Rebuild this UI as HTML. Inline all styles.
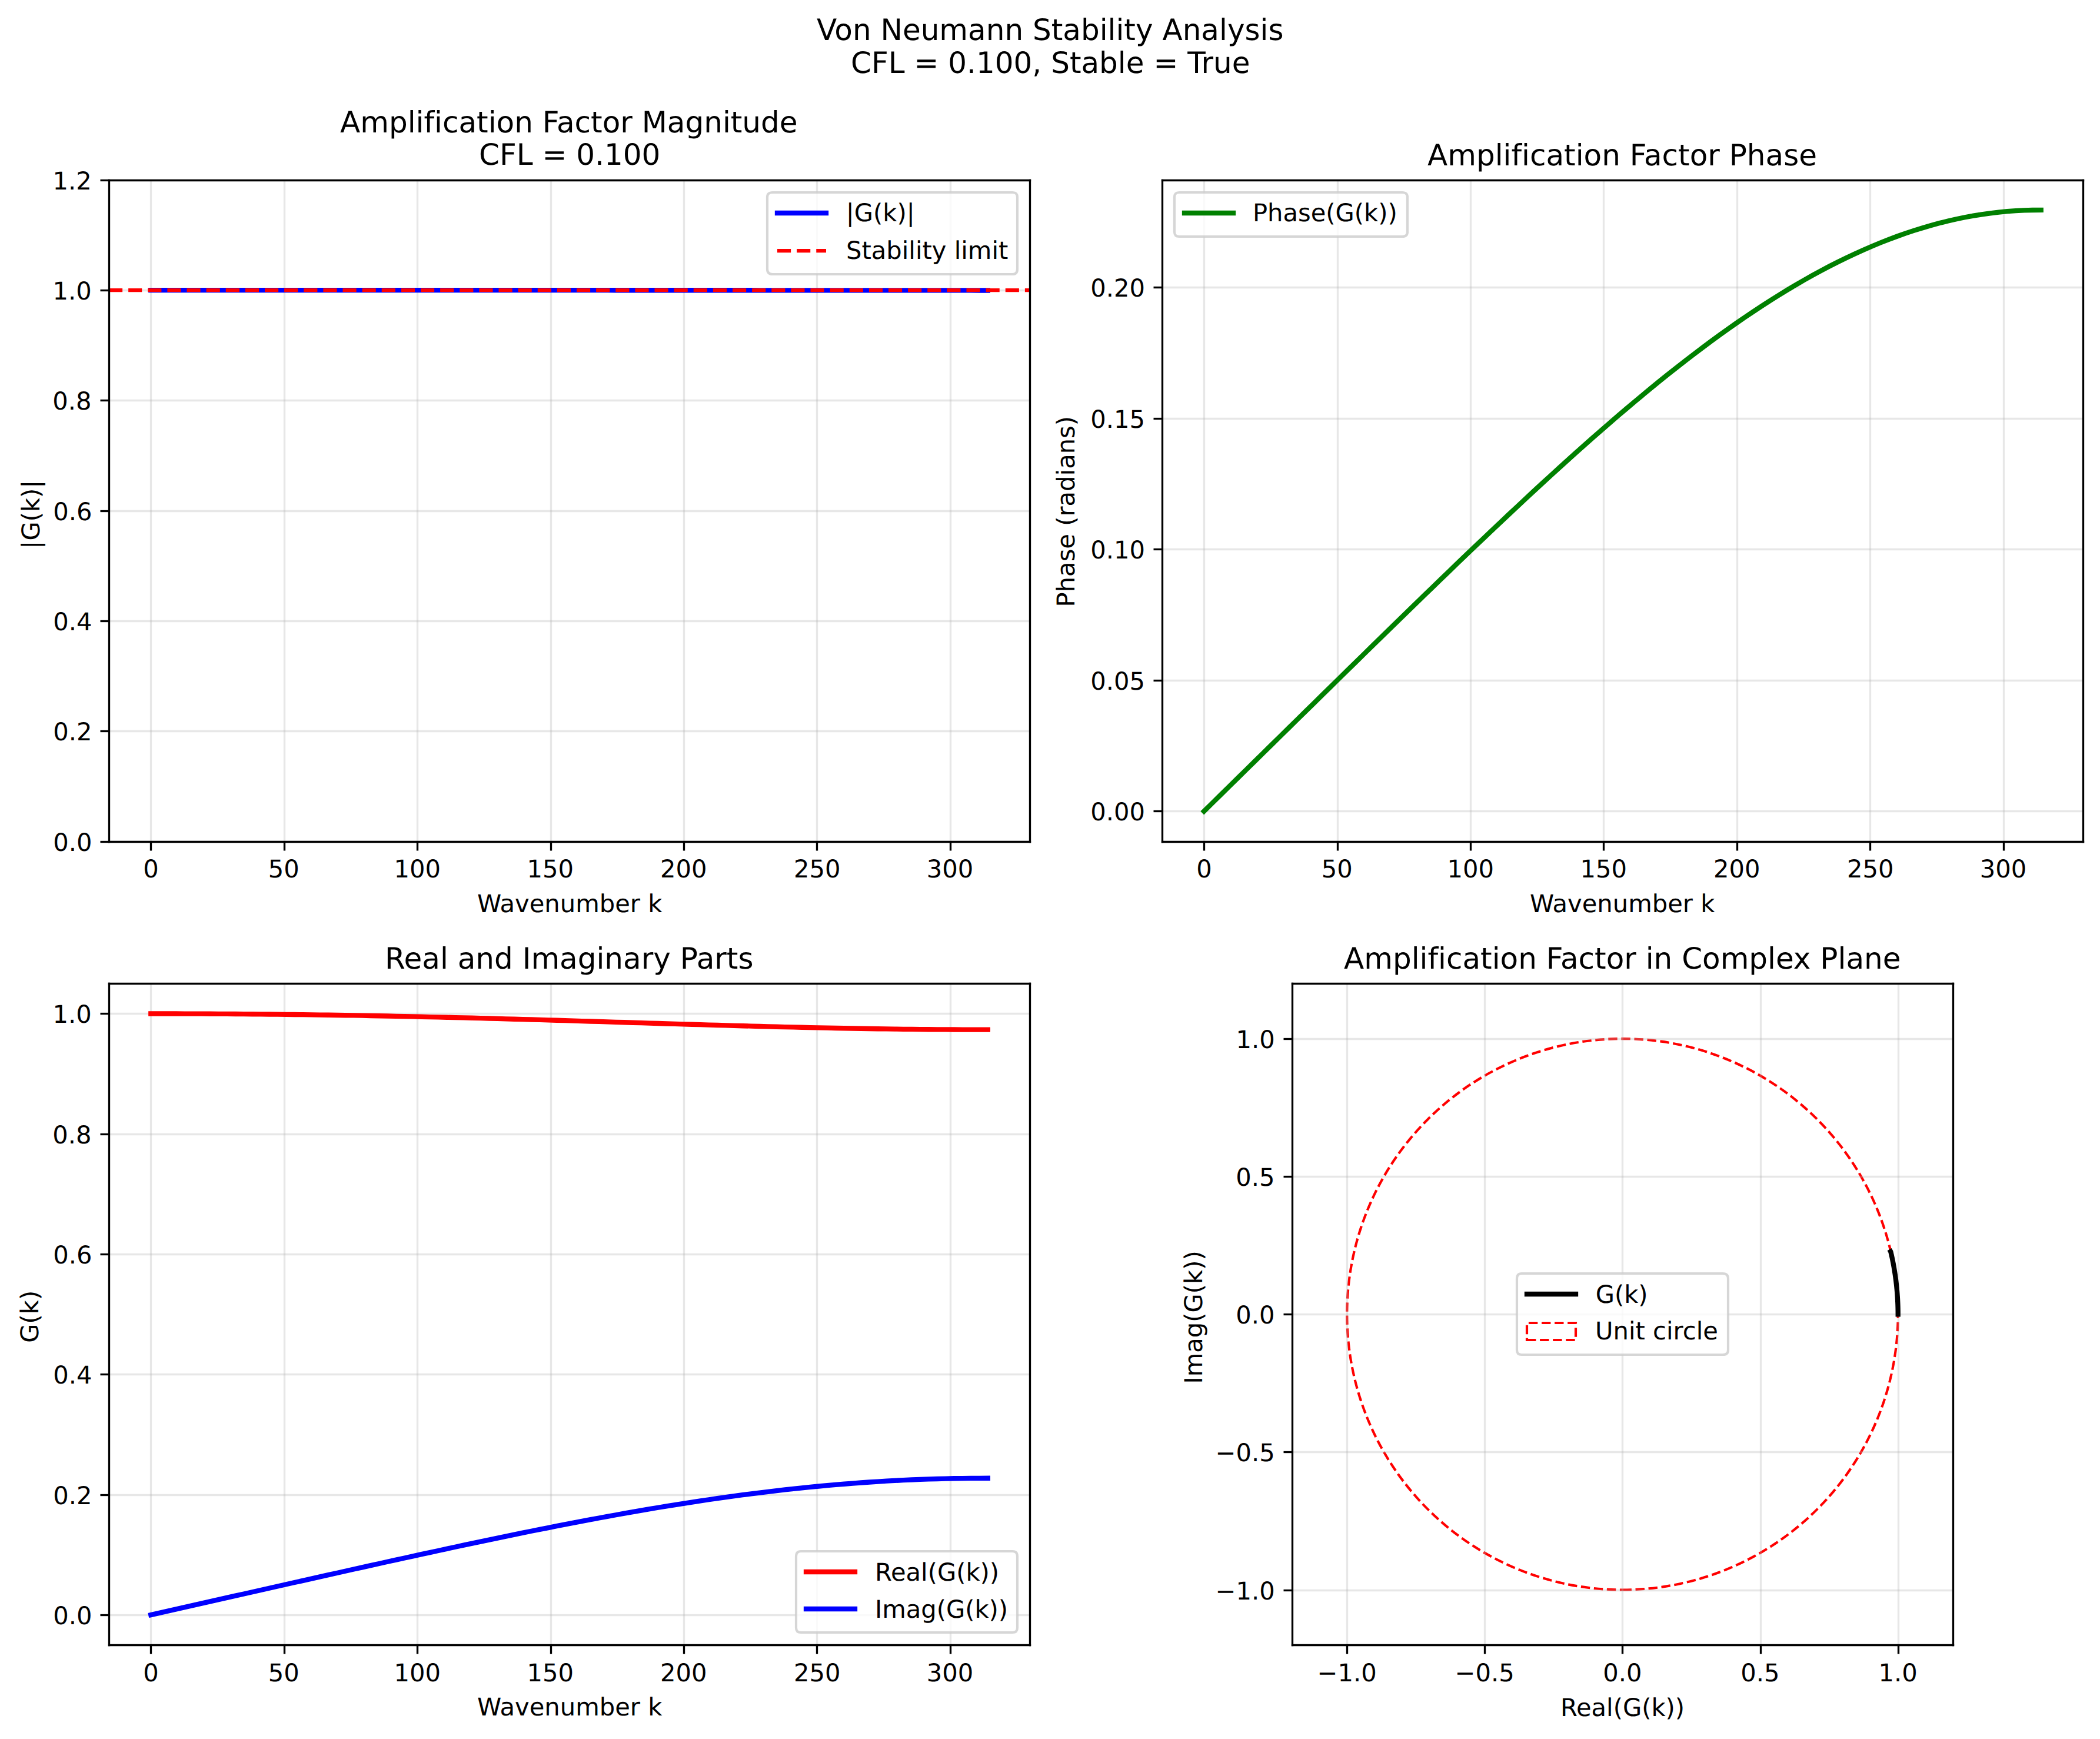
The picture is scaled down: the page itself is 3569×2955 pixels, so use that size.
<!DOCTYPE html>
<html lang="en"><head><meta charset="utf-8"><title>Von Neumann Stability Analysis</title>
<style>
html,body{margin:0;padding:0;background:#fff}
body{width:3569px;height:2955px;overflow:hidden}
svg{display:block}
svg text{font-family:"DejaVu Sans","Liberation Sans",sans-serif;text-rendering:geometricPrecision;white-space:pre;font-variant-ligatures:none;font-feature-settings:"liga" 0,"clig" 0,"dlig" 0}
</style></head><body>
<svg width="3569" height="2955" viewBox="0 0 3569 2955">
<defs><clipPath id="c0"><rect x="185" y="306" width="1565" height="1124"/></clipPath><clipPath id="c1"><rect x="1975" y="306" width="1565" height="1124"/></clipPath><clipPath id="c2"><rect x="185" y="1671" width="1565" height="1124"/></clipPath><clipPath id="c3"><rect x="2196" y="1671" width="1123" height="1124"/></clipPath></defs>
<path d="M0 2955L3570 2955L3570 0L0 0Z" fill="#ffffff" stroke="none"/>
<path d="M185 1430L1750 1430L1750 306L185 306Z" fill="#ffffff" stroke="none"/>
<path d="M256.5 1430.5L256.5 306.5" fill="none" stroke="#b0b0b0" stroke-width="3.333" stroke-opacity="0.3" stroke-linecap="square" stroke-linejoin="round" clip-path="url(#c0)"/>
<path d="M256.5 1430.5L256.5 1445.5" fill="none" stroke="#000000" stroke-width="3.333" stroke-linejoin="round"/>
<text x="243.25" y="1491.3" font-size="41.667">0</text>
<path d="M483.5 1430.5L483.5 306.5" fill="none" stroke="#b0b0b0" stroke-width="3.333" stroke-opacity="0.3" stroke-linecap="square" stroke-linejoin="round" clip-path="url(#c0)"/>
<path d="M483.5 1430.5L483.5 1445.5" fill="none" stroke="#000000" stroke-width="3.333" stroke-linejoin="round"/>
<text x="455.75" y="1491.3" font-size="41.667">50</text>
<path d="M709.5 1430.5L709.5 306.5" fill="none" stroke="#b0b0b0" stroke-width="3.333" stroke-opacity="0.3" stroke-linecap="square" stroke-linejoin="round" clip-path="url(#c0)"/>
<path d="M709.5 1430.5L709.5 1445.5" fill="none" stroke="#000000" stroke-width="3.333" stroke-linejoin="round"/>
<text x="669.438" y="1491.3" font-size="41.667">100</text>
<path d="M936.5 1430.5L936.5 306.5" fill="none" stroke="#b0b0b0" stroke-width="3.333" stroke-opacity="0.3" stroke-linecap="square" stroke-linejoin="round" clip-path="url(#c0)"/>
<path d="M936.5 1430.5L936.5 1445.5" fill="none" stroke="#000000" stroke-width="3.333" stroke-linejoin="round"/>
<text x="895.438" y="1491.3" font-size="41.667">150</text>
<path d="M1162.5 1430.5L1162.5 306.5" fill="none" stroke="#b0b0b0" stroke-width="3.333" stroke-opacity="0.3" stroke-linecap="square" stroke-linejoin="round" clip-path="url(#c0)"/>
<path d="M1162.5 1430.5L1162.5 1445.5" fill="none" stroke="#000000" stroke-width="3.333" stroke-linejoin="round"/>
<text x="1122" y="1491.3" font-size="41.667">200</text>
<path d="M1388.5 1430.5L1388.5 306.5" fill="none" stroke="#b0b0b0" stroke-width="3.333" stroke-opacity="0.3" stroke-linecap="square" stroke-linejoin="round" clip-path="url(#c0)"/>
<path d="M1388.5 1430.5L1388.5 1445.5" fill="none" stroke="#000000" stroke-width="3.333" stroke-linejoin="round"/>
<text x="1349" y="1491.3" font-size="41.667">250</text>
<path d="M1615.5 1430.5L1615.5 306.5" fill="none" stroke="#b0b0b0" stroke-width="3.333" stroke-opacity="0.3" stroke-linecap="square" stroke-linejoin="round" clip-path="url(#c0)"/>
<path d="M1615.5 1430.5L1615.5 1445.5" fill="none" stroke="#000000" stroke-width="3.333" stroke-linejoin="round"/>
<text x="1574.812" y="1491.3" font-size="41.667">300</text>
<text x="811" y="1550.3" font-size="41.667">Wavenumber k</text>
<path d="M185.5 1430.5L1750.5 1430.5" fill="none" stroke="#b0b0b0" stroke-width="3.333" stroke-opacity="0.3" stroke-linecap="square" stroke-linejoin="round" clip-path="url(#c0)"/>
<path d="M185.5 1430.5L170.5 1430.5" fill="none" stroke="#000000" stroke-width="3.333" stroke-linejoin="round"/>
<text x="90.25" y="1446.3" font-size="41.667">0.0</text>
<path d="M185.5 1242.5L1750.5 1242.5" fill="none" stroke="#b0b0b0" stroke-width="3.333" stroke-opacity="0.3" stroke-linecap="square" stroke-linejoin="round" clip-path="url(#c0)"/>
<path d="M185.5 1242.5L170.5 1242.5" fill="none" stroke="#000000" stroke-width="3.333" stroke-linejoin="round"/>
<text x="90.25" y="1258.3" font-size="41.667">0.2</text>
<path d="M185.5 1055.5L1750.5 1055.5" fill="none" stroke="#b0b0b0" stroke-width="3.333" stroke-opacity="0.3" stroke-linecap="square" stroke-linejoin="round" clip-path="url(#c0)"/>
<path d="M185.5 1055.5L170.5 1055.5" fill="none" stroke="#000000" stroke-width="3.333" stroke-linejoin="round"/>
<text x="90.25" y="1071.3" font-size="41.667">0.4</text>
<path d="M185.5 868.5L1750.5 868.5" fill="none" stroke="#b0b0b0" stroke-width="3.333" stroke-opacity="0.3" stroke-linecap="square" stroke-linejoin="round" clip-path="url(#c0)"/>
<path d="M185.5 868.5L170.5 868.5" fill="none" stroke="#000000" stroke-width="3.333" stroke-linejoin="round"/>
<text x="90.25" y="884.3" font-size="41.667">0.6</text>
<path d="M185.5 680.5L1750.5 680.5" fill="none" stroke="#b0b0b0" stroke-width="3.333" stroke-opacity="0.3" stroke-linecap="square" stroke-linejoin="round" clip-path="url(#c0)"/>
<path d="M185.5 680.5L170.5 680.5" fill="none" stroke="#000000" stroke-width="3.333" stroke-linejoin="round"/>
<text x="89.25" y="696.3" font-size="41.667">0.8</text>
<path d="M185.5 493.5L1750.5 493.5" fill="none" stroke="#b0b0b0" stroke-width="3.333" stroke-opacity="0.3" stroke-linecap="square" stroke-linejoin="round" clip-path="url(#c0)"/>
<path d="M185.5 493.5L170.5 493.5" fill="none" stroke="#000000" stroke-width="3.333" stroke-linejoin="round"/>
<text x="89.438" y="509.3" font-size="41.667">1.0</text>
<path d="M185.5 306.5L1750.5 306.5" fill="none" stroke="#b0b0b0" stroke-width="3.333" stroke-opacity="0.3" stroke-linecap="square" stroke-linejoin="round" clip-path="url(#c0)"/>
<path d="M185.5 306.5L170.5 306.5" fill="none" stroke="#000000" stroke-width="3.333" stroke-linejoin="round"/>
<text x="89.438" y="321.8" font-size="41.667">1.2</text>
<text transform="translate(67 932.65) rotate(-90)" font-size="41.667">|G(k)|</text>
<path d="M256.335 493.094L270.704 493.094L285.073 493.095L299.442 493.095L313.812 493.095L328.181 493.095L342.55 493.096L356.919 493.096L371.288 493.097L385.657 493.098L400.026 493.098L414.395 493.099L428.764 493.1L443.133 493.101L457.502 493.102L471.871 493.103L486.24 493.104L500.609 493.105L514.978 493.107L529.348 493.108L543.717 493.11L558.086 493.111L572.455 493.113L586.824 493.115L601.193 493.116L615.562 493.118L629.931 493.12L644.3 493.122L658.669 493.124L673.038 493.127L687.407 493.129L701.776 493.131L716.145 493.134L730.515 493.136L744.884 493.139L759.253 493.141L773.622 493.144L787.991 493.147L802.36 493.15L816.729 493.153L831.098 493.156L845.467 493.159L859.836 493.162L874.205 493.165L888.574 493.168L902.943 493.172L917.312 493.175L931.681 493.179L946.051 493.183L960.42 493.186L974.789 493.19L989.158 493.194L1003.527 493.198L1017.896 493.202L1032.265 493.206L1046.634 493.21L1061.003 493.214L1075.372 493.219L1089.741 493.223L1104.11 493.227L1118.479 493.232L1132.848 493.237L1147.218 493.241L1161.587 493.246L1175.956 493.251L1190.325 493.256L1204.694 493.261L1219.063 493.266L1233.432 493.271L1247.801 493.276L1262.17 493.282L1276.539 493.287L1290.908 493.293L1305.277 493.298L1319.646 493.304L1334.015 493.309L1348.385 493.315L1362.754 493.321L1377.123 493.327L1391.492 493.333L1405.861 493.339L1420.23 493.345L1434.599 493.351L1448.968 493.358L1463.337 493.364L1477.706 493.371L1492.075 493.377L1506.444 493.384L1520.813 493.39L1535.182 493.397L1549.551 493.404L1563.921 493.411L1578.29 493.418L1592.659 493.425L1607.028 493.432L1621.397 493.439L1635.766 493.447L1650.135 493.454L1664.504 493.462L1678.873 493.469" fill="none" stroke="#0000ff" stroke-width="8.333" stroke-linecap="square" stroke-linejoin="round" clip-path="url(#c0)"/>
<path d="M185 493L1750 493" fill="none" stroke="#ff0000" stroke-width="6.25" stroke-linejoin="round" stroke-dasharray="23.125 10" clip-path="url(#c0)"/>
<path d="M185.5 1430.5L185.5 306.5" fill="none" stroke="#000000" stroke-width="3.333" stroke-linecap="square"/>
<path d="M1750.5 1430.5L1750.5 306.5" fill="none" stroke="#000000" stroke-width="3.333" stroke-linecap="square"/>
<path d="M185.5 1430.5L1750.5 1430.5" fill="none" stroke="#000000" stroke-width="3.333" stroke-linecap="square"/>
<path d="M185.5 306.5L1750.5 306.5" fill="none" stroke="#000000" stroke-width="3.333" stroke-linecap="square"/>
<text x="578" y="224.8" font-size="50">Amplification Factor Magnitude</text>
<text x="814" y="280.3" font-size="50">CFL = 0.100</text>
<path d="M1313 466L1721 466Q1729 466 1729 457L1729 335Q1729 327 1721 327L1313 327Q1304 327 1304 335L1304 457Q1304 466 1313 466Z" fill="#ffffff" fill-opacity="0.8" stroke="#cccccc" stroke-width="4.167" stroke-opacity="0.8"/>
<path d="M1321 362L1363 362L1404 362" fill="none" stroke="#0000ff" stroke-width="8.333" stroke-linecap="square" stroke-linejoin="round"/>
<text x="1437.75" y="375.8" font-size="41.667">|G(k)|</text>
<path d="M1321 426L1363 426L1404 426" fill="none" stroke="#ff0000" stroke-width="6.25" stroke-linejoin="round" stroke-dasharray="23.125 10"/>
<text x="1438" y="439.8" font-size="41.667">Stability limit</text>
<path d="M1975 1430L3540 1430L3540 306L1975 306Z" fill="#ffffff" stroke="none"/>
<path d="M2046.5 1430.5L2046.5 306.5" fill="none" stroke="#b0b0b0" stroke-width="3.333" stroke-opacity="0.3" stroke-linecap="square" stroke-linejoin="round" clip-path="url(#c1)"/>
<path d="M2046.5 1430.5L2046.5 1445.5" fill="none" stroke="#000000" stroke-width="3.333" stroke-linejoin="round"/>
<text x="2033.25" y="1491.3" font-size="41.667">0</text>
<path d="M2273.5 1430.5L2273.5 306.5" fill="none" stroke="#b0b0b0" stroke-width="3.333" stroke-opacity="0.3" stroke-linecap="square" stroke-linejoin="round" clip-path="url(#c1)"/>
<path d="M2273.5 1430.5L2273.5 1445.5" fill="none" stroke="#000000" stroke-width="3.333" stroke-linejoin="round"/>
<text x="2245.75" y="1491.3" font-size="41.667">50</text>
<path d="M2499.5 1430.5L2499.5 306.5" fill="none" stroke="#b0b0b0" stroke-width="3.333" stroke-opacity="0.3" stroke-linecap="square" stroke-linejoin="round" clip-path="url(#c1)"/>
<path d="M2499.5 1430.5L2499.5 1445.5" fill="none" stroke="#000000" stroke-width="3.333" stroke-linejoin="round"/>
<text x="2459.438" y="1491.3" font-size="41.667">100</text>
<path d="M2725.5 1430.5L2725.5 306.5" fill="none" stroke="#b0b0b0" stroke-width="3.333" stroke-opacity="0.3" stroke-linecap="square" stroke-linejoin="round" clip-path="url(#c1)"/>
<path d="M2725.5 1430.5L2725.5 1445.5" fill="none" stroke="#000000" stroke-width="3.333" stroke-linejoin="round"/>
<text x="2685.438" y="1491.3" font-size="41.667">150</text>
<path d="M2952.5 1430.5L2952.5 306.5" fill="none" stroke="#b0b0b0" stroke-width="3.333" stroke-opacity="0.3" stroke-linecap="square" stroke-linejoin="round" clip-path="url(#c1)"/>
<path d="M2952.5 1430.5L2952.5 1445.5" fill="none" stroke="#000000" stroke-width="3.333" stroke-linejoin="round"/>
<text x="2912" y="1491.3" font-size="41.667">200</text>
<path d="M3178.5 1430.5L3178.5 306.5" fill="none" stroke="#b0b0b0" stroke-width="3.333" stroke-opacity="0.3" stroke-linecap="square" stroke-linejoin="round" clip-path="url(#c1)"/>
<path d="M3178.5 1430.5L3178.5 1445.5" fill="none" stroke="#000000" stroke-width="3.333" stroke-linejoin="round"/>
<text x="3139" y="1491.3" font-size="41.667">250</text>
<path d="M3405.5 1430.5L3405.5 306.5" fill="none" stroke="#b0b0b0" stroke-width="3.333" stroke-opacity="0.3" stroke-linecap="square" stroke-linejoin="round" clip-path="url(#c1)"/>
<path d="M3405.5 1430.5L3405.5 1445.5" fill="none" stroke="#000000" stroke-width="3.333" stroke-linejoin="round"/>
<text x="3364.812" y="1491.3" font-size="41.667">300</text>
<text x="2600" y="1550.3" font-size="41.667">Wavenumber k</text>
<path d="M1975.5 1378.5L3540.5 1378.5" fill="none" stroke="#b0b0b0" stroke-width="3.333" stroke-opacity="0.3" stroke-linecap="square" stroke-linejoin="round" clip-path="url(#c1)"/>
<path d="M1975.5 1378.5L1960.5 1378.5" fill="none" stroke="#000000" stroke-width="3.333" stroke-linejoin="round"/>
<text x="1853.25" y="1394.3" font-size="41.667">0.00</text>
<path d="M1975.5 1156.5L3540.5 1156.5" fill="none" stroke="#b0b0b0" stroke-width="3.333" stroke-opacity="0.3" stroke-linecap="square" stroke-linejoin="round" clip-path="url(#c1)"/>
<path d="M1975.5 1156.5L1960.5 1156.5" fill="none" stroke="#000000" stroke-width="3.333" stroke-linejoin="round"/>
<text x="1853.25" y="1172.3" font-size="41.667">0.05</text>
<path d="M1975.5 933.5L3540.5 933.5" fill="none" stroke="#b0b0b0" stroke-width="3.333" stroke-opacity="0.3" stroke-linecap="square" stroke-linejoin="round" clip-path="url(#c1)"/>
<path d="M1975.5 933.5L1960.5 933.5" fill="none" stroke="#000000" stroke-width="3.333" stroke-linejoin="round"/>
<text x="1853.25" y="949.3" font-size="41.667">0.10</text>
<path d="M1975.5 711.5L3540.5 711.5" fill="none" stroke="#b0b0b0" stroke-width="3.333" stroke-opacity="0.3" stroke-linecap="square" stroke-linejoin="round" clip-path="url(#c1)"/>
<path d="M1975.5 711.5L1960.5 711.5" fill="none" stroke="#000000" stroke-width="3.333" stroke-linejoin="round"/>
<text x="1853.25" y="727.3" font-size="41.667">0.15</text>
<path d="M1975.5 488.5L3540.5 488.5" fill="none" stroke="#b0b0b0" stroke-width="3.333" stroke-opacity="0.3" stroke-linecap="square" stroke-linejoin="round" clip-path="url(#c1)"/>
<path d="M1975.5 488.5L1960.5 488.5" fill="none" stroke="#000000" stroke-width="3.333" stroke-linejoin="round"/>
<text x="1853.25" y="504.3" font-size="41.667">0.20</text>
<text transform="translate(1826 1031.4) rotate(-90)" font-size="41.667">Phase (radians)</text>
<path d="M2046.21 1378.486L2060.579 1364.361L2074.948 1350.235L2089.317 1336.109L2103.687 1321.984L2118.056 1307.86L2132.425 1293.735L2146.794 1279.612L2161.163 1265.49L2175.532 1251.369L2189.901 1237.25L2204.27 1223.134L2218.639 1209.021L2233.008 1194.911L2247.377 1180.805L2261.746 1166.706L2276.115 1152.612L2290.484 1138.526L2304.853 1124.449L2319.223 1110.382L2333.592 1096.327L2347.961 1082.285L2362.33 1068.259L2376.699 1054.249L2391.068 1040.26L2405.437 1026.292L2419.806 1012.348L2434.175 998.431L2448.544 984.543L2462.913 970.688L2477.282 956.869L2491.651 943.088L2506.02 929.349L2520.39 915.656L2534.759 902.013L2549.128 888.422L2563.497 874.889L2577.866 861.417L2592.235 848.011L2606.604 834.675L2620.973 821.413L2635.342 808.23L2649.711 795.132L2664.08 782.122L2678.449 769.206L2692.818 756.388L2707.187 743.675L2721.556 731.071L2735.926 718.582L2750.295 706.212L2764.664 693.968L2779.033 681.855L2793.402 669.878L2807.771 658.044L2822.14 646.357L2836.509 634.824L2850.878 623.45L2865.247 612.24L2879.616 601.202L2893.985 590.339L2908.354 579.658L2922.723 569.165L2937.093 558.865L2951.462 548.764L2965.831 538.867L2980.2 529.18L2994.569 519.708L3008.938 510.456L3023.307 501.431L3037.676 492.636L3052.045 484.077L3066.414 475.76L3080.783 467.689L3095.152 459.868L3109.521 452.303L3123.89 444.998L3138.26 437.957L3152.629 431.186L3166.998 424.687L3181.367 418.465L3195.736 412.524L3210.105 406.867L3224.474 401.499L3238.843 396.422L3253.212 391.639L3267.581 387.154L3281.95 382.97L3296.319 379.089L3310.688 375.514L3325.057 372.246L3339.426 369.289L3353.796 366.644L3368.165 364.312L3382.534 362.296L3396.903 360.596L3411.272 359.214L3425.641 358.151L3440.01 357.408L3454.379 356.984L3468.748 356.88" fill="none" stroke="#008000" stroke-width="8.333" stroke-linecap="square" stroke-linejoin="round" clip-path="url(#c1)"/>
<path d="M1975.5 1430.5L1975.5 306.5" fill="none" stroke="#000000" stroke-width="3.333" stroke-linecap="square"/>
<path d="M3540.5 1430.5L3540.5 306.5" fill="none" stroke="#000000" stroke-width="3.333" stroke-linecap="square"/>
<path d="M1975.5 1430.5L3540.5 1430.5" fill="none" stroke="#000000" stroke-width="3.333" stroke-linecap="square"/>
<path d="M1975.5 306.5L3540.5 306.5" fill="none" stroke="#000000" stroke-width="3.333" stroke-linecap="square"/>
<text x="2426" y="280.8" font-size="50">Amplification Factor Phase</text>
<path d="M2004 402L2383 402Q2392 402 2392 394L2392 335Q2392 327 2383 327L2004 327Q1996 327 1996 335L1996 394Q1996 402 2004 402Z" fill="#ffffff" fill-opacity="0.8" stroke="#cccccc" stroke-width="4.167" stroke-opacity="0.8"/>
<path d="M2013 362L2054 362L2096 362" fill="none" stroke="#008000" stroke-width="8.333" stroke-linecap="square" stroke-linejoin="round"/>
<text x="2128.875" y="375.8" font-size="41.667">Phase(G(k))</text>
<path d="M185 2795L1750 2795L1750 1671L185 1671Z" fill="#ffffff" stroke="none"/>
<path d="M256.5 2795.5L256.5 1671.5" fill="none" stroke="#b0b0b0" stroke-width="3.333" stroke-opacity="0.3" stroke-linecap="square" stroke-linejoin="round" clip-path="url(#c2)"/>
<path d="M256.5 2795.5L256.5 2810.5" fill="none" stroke="#000000" stroke-width="3.333" stroke-linejoin="round"/>
<text x="243.25" y="2857.3" font-size="41.667">0</text>
<path d="M483.5 2795.5L483.5 1671.5" fill="none" stroke="#b0b0b0" stroke-width="3.333" stroke-opacity="0.3" stroke-linecap="square" stroke-linejoin="round" clip-path="url(#c2)"/>
<path d="M483.5 2795.5L483.5 2810.5" fill="none" stroke="#000000" stroke-width="3.333" stroke-linejoin="round"/>
<text x="455.75" y="2857.3" font-size="41.667">50</text>
<path d="M709.5 2795.5L709.5 1671.5" fill="none" stroke="#b0b0b0" stroke-width="3.333" stroke-opacity="0.3" stroke-linecap="square" stroke-linejoin="round" clip-path="url(#c2)"/>
<path d="M709.5 2795.5L709.5 2810.5" fill="none" stroke="#000000" stroke-width="3.333" stroke-linejoin="round"/>
<text x="669.438" y="2857.3" font-size="41.667">100</text>
<path d="M936.5 2795.5L936.5 1671.5" fill="none" stroke="#b0b0b0" stroke-width="3.333" stroke-opacity="0.3" stroke-linecap="square" stroke-linejoin="round" clip-path="url(#c2)"/>
<path d="M936.5 2795.5L936.5 2810.5" fill="none" stroke="#000000" stroke-width="3.333" stroke-linejoin="round"/>
<text x="895.438" y="2857.3" font-size="41.667">150</text>
<path d="M1162.5 2795.5L1162.5 1671.5" fill="none" stroke="#b0b0b0" stroke-width="3.333" stroke-opacity="0.3" stroke-linecap="square" stroke-linejoin="round" clip-path="url(#c2)"/>
<path d="M1162.5 2795.5L1162.5 2810.5" fill="none" stroke="#000000" stroke-width="3.333" stroke-linejoin="round"/>
<text x="1122" y="2857.3" font-size="41.667">200</text>
<path d="M1388.5 2795.5L1388.5 1671.5" fill="none" stroke="#b0b0b0" stroke-width="3.333" stroke-opacity="0.3" stroke-linecap="square" stroke-linejoin="round" clip-path="url(#c2)"/>
<path d="M1388.5 2795.5L1388.5 2810.5" fill="none" stroke="#000000" stroke-width="3.333" stroke-linejoin="round"/>
<text x="1349" y="2857.3" font-size="41.667">250</text>
<path d="M1615.5 2795.5L1615.5 1671.5" fill="none" stroke="#b0b0b0" stroke-width="3.333" stroke-opacity="0.3" stroke-linecap="square" stroke-linejoin="round" clip-path="url(#c2)"/>
<path d="M1615.5 2795.5L1615.5 2810.5" fill="none" stroke="#000000" stroke-width="3.333" stroke-linejoin="round"/>
<text x="1574.812" y="2857.3" font-size="41.667">300</text>
<text x="811" y="2915.3" font-size="41.667">Wavenumber k</text>
<path d="M185.5 2744.5L1750.5 2744.5" fill="none" stroke="#b0b0b0" stroke-width="3.333" stroke-opacity="0.3" stroke-linecap="square" stroke-linejoin="round" clip-path="url(#c2)"/>
<path d="M185.5 2744.5L170.5 2744.5" fill="none" stroke="#000000" stroke-width="3.333" stroke-linejoin="round"/>
<text x="90.25" y="2760.3" font-size="41.667">0.0</text>
<path d="M185.5 2540.5L1750.5 2540.5" fill="none" stroke="#b0b0b0" stroke-width="3.333" stroke-opacity="0.3" stroke-linecap="square" stroke-linejoin="round" clip-path="url(#c2)"/>
<path d="M185.5 2540.5L170.5 2540.5" fill="none" stroke="#000000" stroke-width="3.333" stroke-linejoin="round"/>
<text x="90.25" y="2556.3" font-size="41.667">0.2</text>
<path d="M185.5 2335.5L1750.5 2335.5" fill="none" stroke="#b0b0b0" stroke-width="3.333" stroke-opacity="0.3" stroke-linecap="square" stroke-linejoin="round" clip-path="url(#c2)"/>
<path d="M185.5 2335.5L170.5 2335.5" fill="none" stroke="#000000" stroke-width="3.333" stroke-linejoin="round"/>
<text x="90.25" y="2351.3" font-size="41.667">0.4</text>
<path d="M185.5 2131.5L1750.5 2131.5" fill="none" stroke="#b0b0b0" stroke-width="3.333" stroke-opacity="0.3" stroke-linecap="square" stroke-linejoin="round" clip-path="url(#c2)"/>
<path d="M185.5 2131.5L170.5 2131.5" fill="none" stroke="#000000" stroke-width="3.333" stroke-linejoin="round"/>
<text x="90.25" y="2147.3" font-size="41.667">0.6</text>
<path d="M185.5 1927.5L1750.5 1927.5" fill="none" stroke="#b0b0b0" stroke-width="3.333" stroke-opacity="0.3" stroke-linecap="square" stroke-linejoin="round" clip-path="url(#c2)"/>
<path d="M185.5 1927.5L170.5 1927.5" fill="none" stroke="#000000" stroke-width="3.333" stroke-linejoin="round"/>
<text x="89.25" y="1943.3" font-size="41.667">0.8</text>
<path d="M185.5 1722.5L1750.5 1722.5" fill="none" stroke="#b0b0b0" stroke-width="3.333" stroke-opacity="0.3" stroke-linecap="square" stroke-linejoin="round" clip-path="url(#c2)"/>
<path d="M185.5 1722.5L170.5 1722.5" fill="none" stroke="#000000" stroke-width="3.333" stroke-linejoin="round"/>
<text x="89.438" y="1738.3" font-size="41.667">1.0</text>
<text transform="translate(65 2281.775) rotate(-90)" font-size="41.667">G(k)</text>
<path d="M256.335 1722.48L270.704 1722.485L285.073 1722.501L299.442 1722.527L313.812 1722.563L328.181 1722.61L342.55 1722.667L356.919 1722.734L371.288 1722.812L385.657 1722.9L400.026 1722.999L414.395 1723.107L428.764 1723.227L443.133 1723.356L457.502 1723.496L471.871 1723.646L486.24 1723.806L500.609 1723.976L514.978 1724.157L529.348 1724.348L543.717 1724.549L558.086 1724.76L572.455 1724.98L586.824 1725.211L601.193 1725.452L615.562 1725.702L629.931 1725.962L644.3 1726.232L658.669 1726.511L673.038 1726.799L687.407 1727.097L701.776 1727.403L716.145 1727.719L730.515 1728.043L744.884 1728.375L759.253 1728.716L773.622 1729.065L787.991 1729.421L802.36 1729.786L816.729 1730.157L831.098 1730.536L845.467 1730.921L859.836 1731.313L874.205 1731.711L888.574 1732.115L902.943 1732.524L917.312 1732.938L931.681 1733.357L946.051 1733.781L960.42 1734.208L974.789 1734.638L989.158 1735.072L1003.527 1735.508L1017.896 1735.947L1032.265 1736.387L1046.634 1736.828L1061.003 1737.27L1075.372 1737.712L1089.741 1738.154L1104.11 1738.594L1118.479 1739.034L1132.848 1739.471L1147.218 1739.906L1161.587 1740.339L1175.956 1740.767L1190.325 1741.192L1204.694 1741.611L1219.063 1742.026L1233.432 1742.435L1247.801 1742.837L1262.17 1743.233L1276.539 1743.622L1290.908 1744.002L1305.277 1744.374L1319.646 1744.737L1334.015 1745.091L1348.385 1745.435L1362.754 1745.768L1377.123 1746.09L1391.492 1746.401L1405.861 1746.7L1420.23 1746.987L1434.599 1747.261L1448.968 1747.522L1463.337 1747.77L1477.706 1748.003L1492.075 1748.223L1506.444 1748.428L1520.813 1748.618L1535.182 1748.793L1549.551 1748.952L1563.921 1749.096L1578.29 1749.224L1592.659 1749.336L1607.028 1749.432L1621.397 1749.512L1635.766 1749.575L1650.135 1749.621L1664.504 1749.652L1678.873 1749.665" fill="none" stroke="#ff0000" stroke-width="8.333" stroke-linecap="square" stroke-linejoin="round" clip-path="url(#c2)"/>
<path d="M256.335 2744.086L270.704 2740.844L285.073 2737.603L299.442 2734.361L313.812 2731.119L328.181 2727.878L342.55 2724.637L356.919 2721.396L371.288 2718.156L385.657 2714.917L400.026 2711.678L414.395 2708.44L428.764 2705.203L443.133 2701.968L457.502 2698.734L471.871 2695.501L486.24 2692.271L500.609 2689.042L514.978 2685.817L529.348 2682.594L543.717 2679.375L558.086 2676.159L572.455 2672.948L586.824 2669.741L601.193 2666.539L615.562 2663.343L629.931 2660.154L644.3 2656.971L658.669 2653.797L673.038 2650.63L687.407 2647.472L701.776 2644.325L716.145 2641.188L730.515 2638.062L744.884 2634.949L759.253 2631.848L773.622 2628.762L787.991 2625.691L802.36 2622.636L816.729 2619.599L831.098 2616.579L845.467 2613.578L859.836 2610.598L874.205 2607.639L888.574 2604.703L902.943 2601.79L917.312 2598.902L931.681 2596.04L946.051 2593.205L960.42 2590.399L974.789 2587.623L989.158 2584.877L1003.527 2582.163L1017.896 2579.483L1032.265 2576.838L1046.634 2574.228L1061.003 2571.656L1075.372 2569.122L1089.741 2566.628L1104.11 2564.174L1118.479 2561.763L1132.848 2559.395L1147.218 2557.072L1161.587 2554.795L1175.956 2552.565L1190.325 2550.383L1204.694 2548.25L1219.063 2546.168L1233.432 2544.138L1247.801 2542.161L1262.17 2540.237L1276.539 2538.368L1290.908 2536.556L1305.277 2534.8L1319.646 2533.103L1334.015 2531.465L1348.385 2529.886L1362.754 2528.369L1377.123 2526.913L1391.492 2525.519L1405.861 2524.189L1420.23 2522.924L1434.599 2521.723L1448.968 2520.587L1463.337 2519.518L1477.706 2518.516L1492.075 2517.582L1506.444 2516.715L1520.813 2515.917L1535.182 2515.188L1549.551 2514.529L1563.921 2513.939L1578.29 2513.42L1592.659 2512.971L1607.028 2512.593L1621.397 2512.286L1635.766 2512.05L1650.135 2511.886L1664.504 2511.793L1678.873 2511.772" fill="none" stroke="#0000ff" stroke-width="8.333" stroke-linecap="square" stroke-linejoin="round" clip-path="url(#c2)"/>
<path d="M185.5 2795.5L185.5 1671.5" fill="none" stroke="#000000" stroke-width="3.333" stroke-linecap="square"/>
<path d="M1750.5 2795.5L1750.5 1671.5" fill="none" stroke="#000000" stroke-width="3.333" stroke-linecap="square"/>
<path d="M185.5 2795.5L1750.5 2795.5" fill="none" stroke="#000000" stroke-width="3.333" stroke-linecap="square"/>
<path d="M185.5 1671.5L1750.5 1671.5" fill="none" stroke="#000000" stroke-width="3.333" stroke-linecap="square"/>
<text x="654" y="1645.8" font-size="50">Real and Imaginary Parts</text>
<path d="M1361 2774L1721 2774Q1729 2774 1729 2766L1729 2645Q1729 2636 1721 2636L1361 2636Q1353 2636 1353 2645L1353 2766Q1353 2774 1361 2774Z" fill="#ffffff" fill-opacity="0.8" stroke="#cccccc" stroke-width="4.167" stroke-opacity="0.8"/>
<path d="M1370 2671L1411 2671L1453 2671" fill="none" stroke="#ff0000" stroke-width="8.333" stroke-linecap="square" stroke-linejoin="round"/>
<text x="1486.875" y="2685.8" font-size="41.667">Real(G(k))</text>
<path d="M1370 2734L1411 2734L1453 2734" fill="none" stroke="#0000ff" stroke-width="8.333" stroke-linecap="square" stroke-linejoin="round"/>
<text x="1486.875" y="2748.8" font-size="41.667">Imag(G(k))</text>
<path d="M2196 2795L3319 2795L3319 1671L2196 1671Z" fill="#ffffff" stroke="none"/>
<path d="M2757.479 2701.519C2881.657 2701.519 3000.765 2652.183 3088.572 2564.376C3176.379 2476.569 3225.715 2357.461 3225.715 2233.283C3225.715 2109.106 3176.379 1989.997 3088.572 1902.19C3000.765 1814.384 2881.657 1765.047 2757.479 1765.047C2633.301 1765.047 2514.193 1814.384 2426.386 1902.19C2338.579 1989.997 2289.243 2109.106 2289.243 2233.283C2289.243 2357.461 2338.579 2476.569 2426.386 2564.376C2514.193 2652.183 2633.301 2701.519 2757.479 2701.519Z" fill="none" stroke="#ff0000" stroke-width="4.167" stroke-dasharray="15.417 6.667" clip-path="url(#c3)"/>
<path d="M2289.5 2795.5L2289.5 1671.5" fill="none" stroke="#b0b0b0" stroke-width="3.333" stroke-opacity="0.3" stroke-linecap="square" stroke-linejoin="round" clip-path="url(#c3)"/>
<path d="M2289.5 2795.5L2289.5 2810.5" fill="none" stroke="#000000" stroke-width="3.333" stroke-linejoin="round"/>
<text x="2238.562" y="2857.3" font-size="41.667">−1.0</text>
<path d="M2523.5 2795.5L2523.5 1671.5" fill="none" stroke="#b0b0b0" stroke-width="3.333" stroke-opacity="0.3" stroke-linecap="square" stroke-linejoin="round" clip-path="url(#c3)"/>
<path d="M2523.5 2795.5L2523.5 2810.5" fill="none" stroke="#000000" stroke-width="3.333" stroke-linejoin="round"/>
<text x="2472.562" y="2857.3" font-size="41.667">−0.5</text>
<path d="M2757.5 2795.5L2757.5 1671.5" fill="none" stroke="#b0b0b0" stroke-width="3.333" stroke-opacity="0.3" stroke-linecap="square" stroke-linejoin="round" clip-path="url(#c3)"/>
<path d="M2757.5 2795.5L2757.5 2810.5" fill="none" stroke="#000000" stroke-width="3.333" stroke-linejoin="round"/>
<text x="2724.25" y="2857.3" font-size="41.667">0.0</text>
<path d="M2992.5 2795.5L2992.5 1671.5" fill="none" stroke="#b0b0b0" stroke-width="3.333" stroke-opacity="0.3" stroke-linecap="square" stroke-linejoin="round" clip-path="url(#c3)"/>
<path d="M2992.5 2795.5L2992.5 2810.5" fill="none" stroke="#000000" stroke-width="3.333" stroke-linejoin="round"/>
<text x="2958.25" y="2857.3" font-size="41.667">0.5</text>
<path d="M3226.5 2795.5L3226.5 1671.5" fill="none" stroke="#b0b0b0" stroke-width="3.333" stroke-opacity="0.3" stroke-linecap="square" stroke-linejoin="round" clip-path="url(#c3)"/>
<path d="M3226.5 2795.5L3226.5 2810.5" fill="none" stroke="#000000" stroke-width="3.333" stroke-linejoin="round"/>
<text x="3192.438" y="2857.3" font-size="41.667">1.0</text>
<text x="2651.875" y="2915.8" font-size="41.667">Real(G(k))</text>
<path d="M2196.5 2702.5L3319.5 2702.5" fill="none" stroke="#b0b0b0" stroke-width="3.333" stroke-opacity="0.3" stroke-linecap="square" stroke-linejoin="round" clip-path="url(#c3)"/>
<path d="M2196.5 2702.5L2181.5 2702.5" fill="none" stroke="#000000" stroke-width="3.333" stroke-linejoin="round"/>
<text x="2065.562" y="2718.3" font-size="41.667">−1.0</text>
<path d="M2196.5 2467.5L3319.5 2467.5" fill="none" stroke="#b0b0b0" stroke-width="3.333" stroke-opacity="0.3" stroke-linecap="square" stroke-linejoin="round" clip-path="url(#c3)"/>
<path d="M2196.5 2467.5L2181.5 2467.5" fill="none" stroke="#000000" stroke-width="3.333" stroke-linejoin="round"/>
<text x="2065.562" y="2483.3" font-size="41.667">−0.5</text>
<path d="M2196.5 2233.5L3319.5 2233.5" fill="none" stroke="#b0b0b0" stroke-width="3.333" stroke-opacity="0.3" stroke-linecap="square" stroke-linejoin="round" clip-path="url(#c3)"/>
<path d="M2196.5 2233.5L2181.5 2233.5" fill="none" stroke="#000000" stroke-width="3.333" stroke-linejoin="round"/>
<text x="2100.25" y="2249.3" font-size="41.667">0.0</text>
<path d="M2196.5 1999.5L3319.5 1999.5" fill="none" stroke="#b0b0b0" stroke-width="3.333" stroke-opacity="0.3" stroke-linecap="square" stroke-linejoin="round" clip-path="url(#c3)"/>
<path d="M2196.5 1999.5L2181.5 1999.5" fill="none" stroke="#000000" stroke-width="3.333" stroke-linejoin="round"/>
<text x="2100.25" y="2015.3" font-size="41.667">0.5</text>
<path d="M2196.5 1765.5L3319.5 1765.5" fill="none" stroke="#b0b0b0" stroke-width="3.333" stroke-opacity="0.3" stroke-linecap="square" stroke-linejoin="round" clip-path="url(#c3)"/>
<path d="M2196.5 1765.5L2181.5 1765.5" fill="none" stroke="#000000" stroke-width="3.333" stroke-linejoin="round"/>
<text x="2100.438" y="1781.3" font-size="41.667">1.0</text>
<text transform="translate(2043 2351.525) rotate(-90)" font-size="41.667">Imag(G(k))</text>
<path d="M3225.715 2233.283L3225.713 2231.797L3225.706 2230.312L3225.694 2228.826L3225.677 2227.34L3225.656 2225.855L3225.63 2224.369L3225.599 2222.884L3225.563 2221.399L3225.523 2219.914L3225.478 2218.43L3225.428 2216.945L3225.373 2215.462L3225.314 2213.979L3225.25 2212.497L3225.181 2211.015L3225.108 2209.534L3225.03 2208.055L3224.947 2206.576L3224.859 2205.099L3224.767 2203.624L3224.671 2202.15L3224.569 2200.678L3224.464 2199.208L3224.353 2197.741L3224.239 2196.276L3224.119 2194.814L3223.996 2193.356L3223.868 2191.901L3223.736 2190.449L3223.599 2189.002L3223.459 2187.559L3223.314 2186.121L3223.166 2184.689L3223.014 2183.262L3222.857 2181.841L3222.697 2180.426L3222.534 2179.019L3222.367 2177.619L3222.197 2176.226L3222.023 2174.842L3221.846 2173.467L3221.667 2172.101L3221.484 2170.745L3221.299 2169.399L3221.112 2168.064L3220.922 2166.74L3220.73 2165.429L3220.536 2164.13L3220.34 2162.843L3220.143 2161.571L3219.944 2160.312L3219.744 2159.069L3219.543 2157.84L3219.341 2156.628L3219.139 2155.432L3218.937 2154.253L3218.734 2153.091L3218.532 2151.948L3218.33 2150.824L3218.128 2149.719L3217.928 2148.633L3217.728 2147.569L3217.53 2146.525L3217.334 2145.503L3217.139 2144.503L3216.947 2143.525L3216.757 2142.571L3216.569 2141.64L3216.385 2140.734L3216.204 2139.852L3216.026 2138.996L3215.851 2138.165L3215.681 2137.361L3215.514 2136.583L3215.352 2135.832L3215.195 2135.108L3215.042 2134.413L3214.894 2133.745L3214.752 2133.107L3214.614 2132.497L3214.483 2131.917L3214.357 2131.367L3214.238 2130.846L3214.124 2130.356L3214.017 2129.897L3213.917 2129.469L3213.823 2129.072L3213.736 2128.706L3213.656 2128.372L3213.582 2128.069L3213.516 2127.799L3213.458 2127.561L3213.406 2127.355L3213.362 2127.182L3213.326 2127.041L3213.297 2126.933L3213.276 2126.858L3213.262 2126.816L3213.256 2126.806" fill="none" stroke="#000000" stroke-width="8.333" stroke-linecap="square" stroke-linejoin="round" clip-path="url(#c3)"/>
<path d="M2196.5 2795.5L2196.5 1671.5" fill="none" stroke="#000000" stroke-width="3.333" stroke-linecap="square"/>
<path d="M3319.5 2795.5L3319.5 1671.5" fill="none" stroke="#000000" stroke-width="3.333" stroke-linecap="square"/>
<path d="M2196.5 2795.5L3319.5 2795.5" fill="none" stroke="#000000" stroke-width="3.333" stroke-linecap="square"/>
<path d="M2196.5 1671.5L3319.5 1671.5" fill="none" stroke="#000000" stroke-width="3.333" stroke-linecap="square"/>
<text x="2284" y="1645.8" font-size="50">Amplification Factor in Complex Plane</text>
<path d="M2586 2302L2928 2302Q2937 2302 2937 2294L2937 2173Q2937 2164 2928 2164L2586 2164Q2578 2164 2578 2173L2578 2294Q2578 2302 2586 2302Z" fill="#ffffff" fill-opacity="0.8" stroke="#cccccc" stroke-width="4.167" stroke-opacity="0.8"/>
<path d="M2595 2199L2636 2199L2678 2199" fill="none" stroke="#000000" stroke-width="8.333" stroke-linecap="square" stroke-linejoin="round"/>
<text x="2711.625" y="2213.8" font-size="41.667">G(k)</text>
<path d="M2595 2277L2678 2277L2678 2248L2595 2248Z" fill="none" stroke="#ff0000" stroke-width="4.167" stroke-dasharray="15.417 6.667"/>
<text x="2711" y="2276.3" font-size="41.667">Unit circle</text>
<text x="1388" y="67.8" font-size="50">Von Neumann Stability Analysis</text>
<text x="1446" y="123.8" font-size="50">CFL = 0.100, Stable = True</text>
</svg>
</body></html>
